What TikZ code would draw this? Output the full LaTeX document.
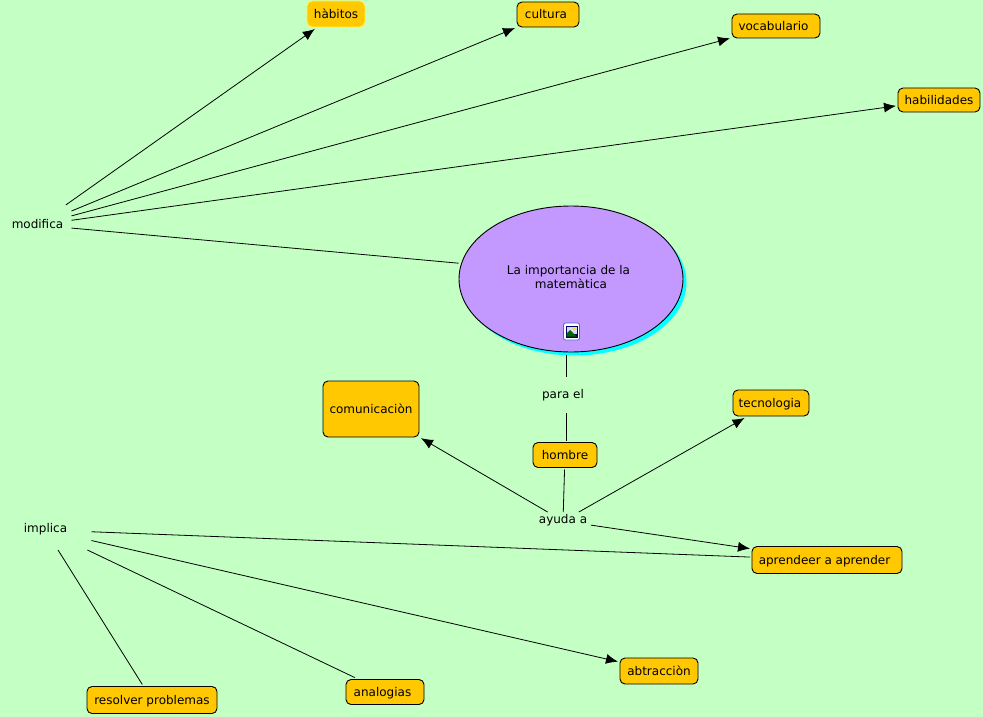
\documentclass[tikz,border=0pt]{standalone}
\usepackage{fontspec}
\setmainfont{DejaVu Sans}
\usepackage{tikz}
\usetikzlibrary{arrows.meta,shapes.geometric,shadows}
\definecolor{mapbg}{HTML}{C4FFC4}
\definecolor{boxfill}{HTML}{FFC800}
\definecolor{ovalfill}{HTML}{C499FF}
\definecolor{ovalshadow}{HTML}{00FFFF}
\definecolor{iconframe}{HTML}{3F6FD0}
\tikzset{
  concept/.style={draw=black,fill=boxfill,rounded corners=5pt,inner sep=0pt,outer sep=2pt,line width=0.9pt,text height=12pt,text depth=3pt,font=\fontsize{12}{14}\selectfont},
  linkword/.style={inner sep=0pt,outer sep=0pt,font=\fontsize{12}{14}\selectfont},
  arrowline/.style={line width=0.8pt,-{Latex[length=12pt,width=10pt]}},
  plainline/.style={line width=0.8pt}
}
\begin{document}
\begin{tikzpicture}[x=1pt,y=-1pt]
\fill[mapbg] (0,0) rectangle (983,717);
\useasboundingbox (0,0) rectangle (983,717);
% top row
\node[concept,draw=yellow!70!white,minimum width=58pt,minimum height=26pt] (habitos) at (336,14) {hàbitos};
\node[concept,minimum width=62pt,minimum height=25pt] (cultura) at (548,14.5) {cultura\hspace*{4pt}};
\node[concept,minimum width=88pt,minimum height=24pt] (vocabulario) at (776,26) {vocabulario\hspace*{5pt}};
\node[concept,minimum width=82pt,minimum height=24pt] (habilidades) at (939,100) {habilidades};
% middle
\node[linkword,text height=7pt,text depth=0pt,minimum width=68pt,minimum height=40pt] (modifica) at (37.5,225) {modifica};
\node[ellipse,draw=black,fill=ovalfill,line width=0.9pt,inner sep=0pt,outer sep=3pt,minimum width=224pt,minimum height=146pt,
  drop shadow={shadow xshift=3.5pt,shadow yshift=-3.5pt,fill=ovalshadow,opacity=1},align=center,font=\fontsize{12}{14}\selectfont] (oval) at (571,279) {La importancia de la\hspace*{5pt}\\matemàtica\hspace*{1pt}\\[-10pt]};
\node[draw=iconframe,fill=white,rounded corners=2pt,line width=0.8pt,inner sep=0pt,minimum width=16pt,minimum height=17pt] (icon) at (571.5,331.5) {};
\fill[black!60!blue] (565.5,325.5) rectangle (577.5,337.5);
\fill[white!85!blue] (566.5,326.5) rectangle (576.5,334);
\fill[yellow!80!orange] (574,328.5) circle (1.5pt);
\fill[green!40!black] (566.5,336.5) -- (566.5,333.5) -- (570,330) -- (576.5,336.5) -- cycle;
\node[linkword,minimum width=62pt,minimum height=36pt] (parael) at (566,395) {para el\hspace*{6pt}};
\node[concept,minimum width=96pt,minimum height=56pt] (comunicacion) at (371,409) {comunicaciòn};
\node[concept,minimum width=76pt,minimum height=26pt] (tecnologia) at (771,403) {tecnologia\hspace*{2pt}};
\node[concept,minimum width=64pt,minimum height=25pt] (hombre) at (565,455) {hombre};
\node[linkword,text height=7pt,text depth=3pt,minimum width=56pt,minimum height=18pt] (ayuda) at (563,521) {ayuda a};
% bottom
\node[linkword,text height=7pt,text depth=2.4pt,minimum width=92pt,minimum height=40pt] (implica) at (45.5,530) {implica};
\node[concept,minimum width=150pt,minimum height=27pt] (aprender) at (827,560) {aprendeer a aprender\hspace*{5pt}};
\node[concept,minimum width=78pt,minimum height=26pt] (abtraccion) at (659,671) {abtracciòn};
\node[concept,minimum width=78pt,minimum height=25pt] (analogias) at (385,692) {analogias\hspace*{5pt}};
\node[concept,minimum width=130pt,minimum height=27pt] (resolver) at (152,700) {resolver problemas};
% connectors
\draw[arrowline] (modifica) -- (habitos);
\draw[arrowline] (modifica) -- (cultura);
\draw[arrowline] (modifica) -- (vocabulario);
\draw[arrowline] (modifica) -- (habilidades);
\draw[plainline] (modifica) -- (oval.172.5);
\draw[plainline] (oval.south -| parael) -- (parael);
\draw[plainline] (parael) -- (hombre.north -| parael);
\draw[plainline] (hombre) -- (ayuda);
\draw[arrowline] (ayuda) -- (comunicacion);
\draw[arrowline] (ayuda) -- (tecnologia);
\draw[arrowline] (ayuda) -- (aprender);
\draw[plainline] (implica) -- (aprender);
\draw[arrowline] (implica) -- (abtraccion);
\draw[plainline] (implica) -- (analogias);
\draw[plainline] (implica) -- (resolver);
\end{tikzpicture}
\end{document}
